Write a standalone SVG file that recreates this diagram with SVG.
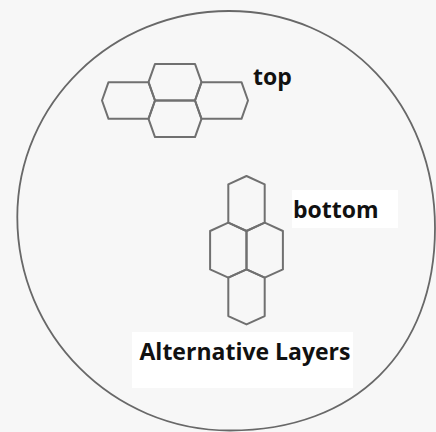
<svg xmlns="http://www.w3.org/2000/svg" width="436" height="432" viewBox="0 0 436 432">
  <style>
    .hex { fill: none; stroke: #707070; stroke-width: 2; stroke-linejoin: round; }
    .ring { fill: none; stroke: #686868; stroke-width: 1.8; }
    .lbl { font-family: "Open Sans", "Noto Sans", "Liberation Sans", sans-serif; font-weight: 700; font-size: 23px; fill: #111; }
    .pad { fill: #ffffff; stroke: none; }
  </style>
  <rect x="0" y="0" width="436" height="432" fill="#f7f7f7"/>
  <rect class="pad" x="292" y="190" width="106" height="38"/>
  <rect class="pad" x="132" y="332" width="221" height="56"/>

  <path id="outline" class="ring" d="M229,11 C346.4,11 435,104.3 435,228 C435,351.5 355,430.5 230,430.5 C112.5,430.5 17.3,334.9 17.3,217 C17.3,103.2 112.1,11 229,11 Z"/>

  <g id="top-layer">
    <polygon class="hex" points="108.5,82.2 148.5,82.2 155,100.5 148.5,118.8 108.5,118.8 102,100.5"/>
    <polygon class="hex" points="155,63.9 195,63.9 201.5,82.2 195,100.5 155,100.5 148.5,82.2"/>
    <polygon class="hex" points="155,100.5 195,100.5 201.5,118.8 195,137.1 155,137.1 148.5,118.8"/>
    <polygon class="hex" points="201.5,82.2 241.5,82.2 248,100.5 241.5,118.8 201.5,118.8 195,100.5"/>
  </g>

  <g id="bottom-layer">
    <polygon class="hex" points="246.5,176 264.7,184.3 264.7,222.7 246.5,231 228.3,222.7 228.3,184.3"/>
    <polygon class="hex" points="228.3,222.7 246.5,231 246.5,269.4 228.3,277.7 210.1,269.4 210.1,231"/>
    <polygon class="hex" points="264.7,222.7 282.9,231 282.9,269.4 264.7,277.7 246.5,269.4 246.5,231"/>
    <polygon class="hex" points="246.5,269.4 264.7,277.7 264.7,316.1 246.5,324.4 228.3,316.1 228.3,277.7"/>
  </g>

  <g id="labels">
    <text id="label-top" class="lbl" x="253" y="84.5">top</text>
    <text id="label-bottom" class="lbl" x="293" y="218.3">bottom</text>
    <text id="label-title" class="lbl" x="139.5" y="360">Alternative Layers</text>
  </g>
</svg>
